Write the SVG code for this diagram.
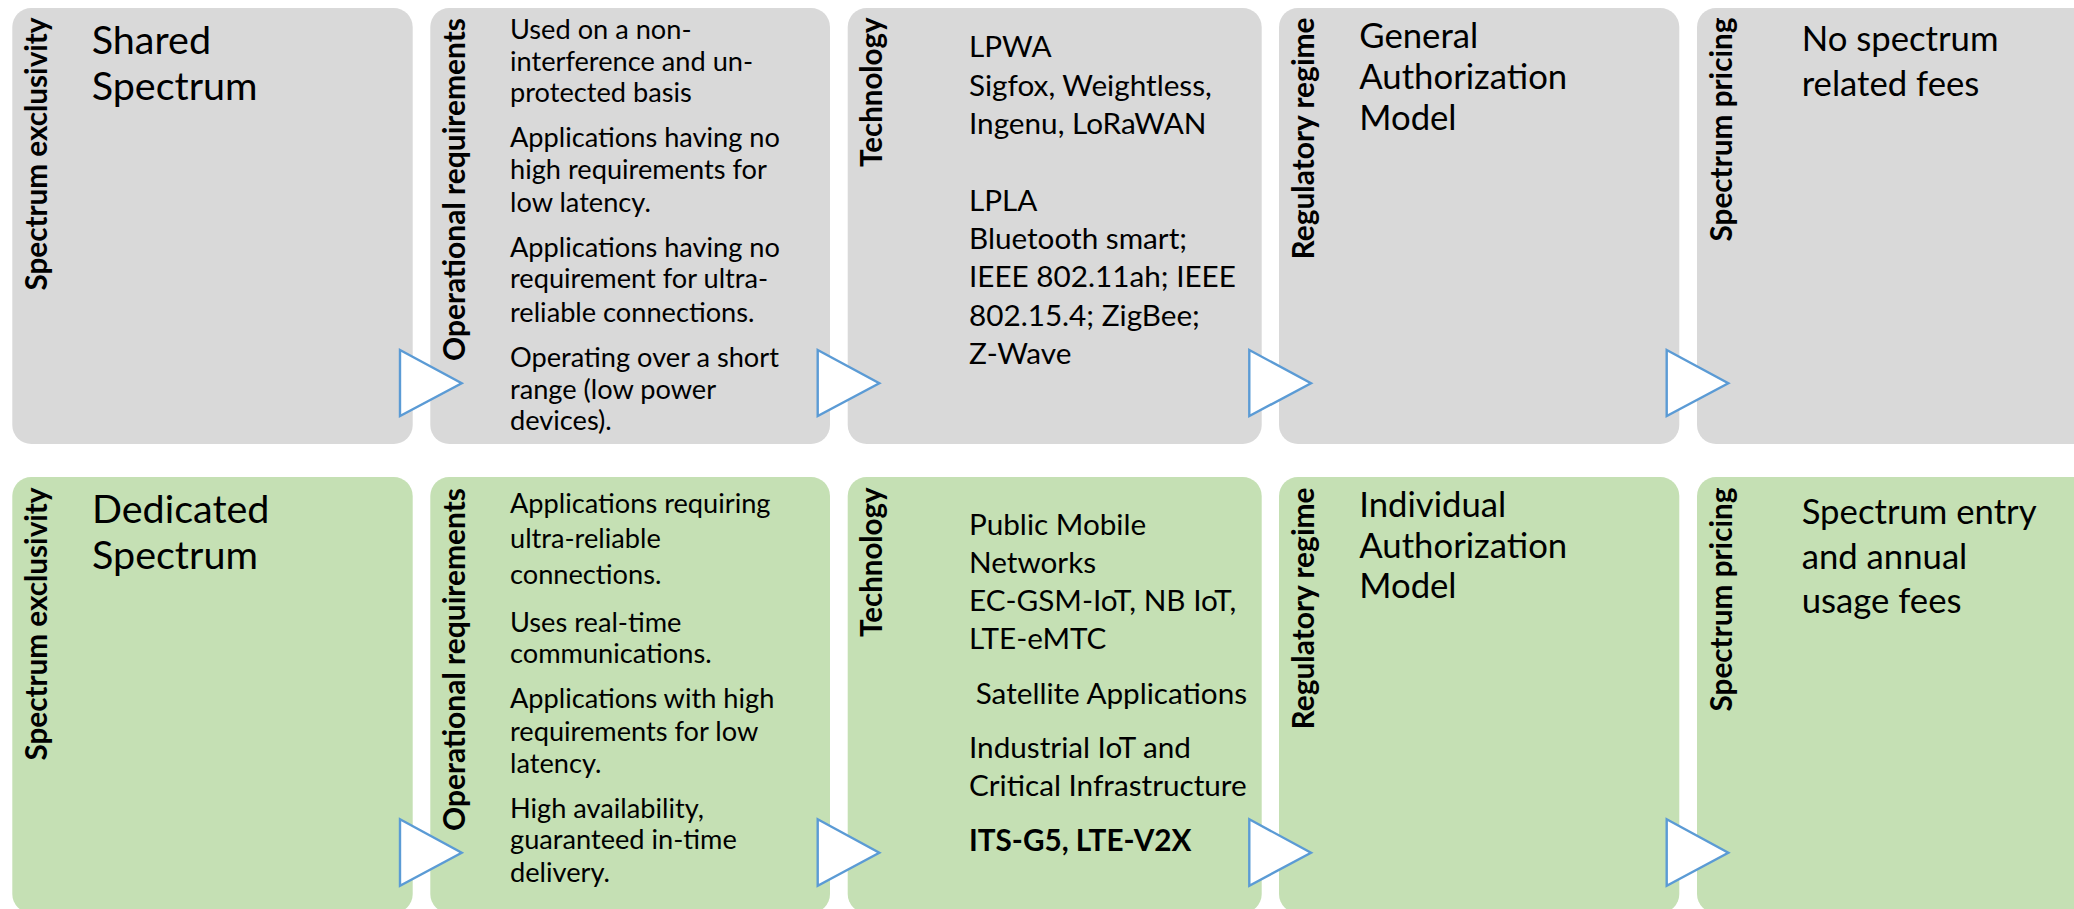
<svg xmlns="http://www.w3.org/2000/svg" width="2074" height="909" viewBox="0 0 2074 909">
  <style>
    .shared { fill: #d9d9d9; }
    .dedicated { fill: #c5e0b4; }
    .label { font-family: Lato, "Open Sans", sans-serif; font-weight: 700; font-size: 29.7px; fill: #000; }
    .t { font-family: Lato, "Open Sans", sans-serif; fill: #000; }
    .s27 { font-size: 27.2px; }
    .s30 { font-size: 29.7px; }
    .s35 { font-size: 34.7px; }
    .s40 { font-size: 39.5px; }
    .b { font-weight: 700; }
    .chevron { fill: #ffffff; stroke: #5b9bd5; stroke-width: 2.4; stroke-linejoin: miter; }
  </style>

  <rect width="2074" height="909" fill="#ffffff"/>

  <!-- Row 1: shared spectrum -->
  <g id="shared-exclusivity">
    <rect class="shared" x="12.3" y="8" width="400.4" height="436" rx="19"/>
    <text class="label" transform="translate(46.8,17.5) rotate(-90)" text-anchor="end" textLength="273" lengthAdjust="spacingAndGlyphs">Spectrum exclusivity</text>
    <text class="t s40" x="91.7" y="54">Shared</text>
    <text class="t s40" x="91.7" y="100">Spectrum</text>
  </g>

  <g id="shared-operational">
    <rect class="shared" x="430.3" y="8" width="399.7" height="436" rx="19"/>
    <text class="label" transform="translate(464.8,18) rotate(-90)" text-anchor="end" textLength="343" lengthAdjust="spacingAndGlyphs">Operational requirements</text>
    <g class="t s27">
      <text x="510" y="39.3">Used on a non-</text>
      <text x="510" y="70.7">interference and un-</text>
      <text x="510" y="102.3">protected basis</text>
      <text x="510" y="147.3">Applications having no</text>
      <text x="510" y="179.3">high requirements for</text>
      <text x="510" y="212">low latency.</text>
      <text x="510" y="256.7">Applications having no</text>
      <text x="510" y="288.3">requirement for ultra-</text>
      <text x="510" y="321.7">reliable connections.</text>
      <text x="510" y="366.7">Operating over a short</text>
      <text x="510" y="398.7">range (low power</text>
      <text x="510" y="430">devices).</text>
    </g>
  </g>

  <g id="shared-technology">
    <rect class="shared" x="847.7" y="8" width="414" height="436" rx="19"/>
    <text class="label" transform="translate(882,17.5) rotate(-90)" text-anchor="end" textLength="149.4" lengthAdjust="spacingAndGlyphs">Technology</text>
    <g class="t s30">
      <text x="969" y="57.3">LPWA</text>
      <text x="969" y="95.7">Sigfox, Weightless,</text>
      <text x="969" y="134">Ingenu, LoRaWAN</text>
      <text x="969" y="211">LPLA</text>
      <text x="969" y="249.3">Bluetooth smart;</text>
      <text x="969" y="287.3">IEEE 802.11ah; IEEE</text>
      <text x="969" y="325.7">802.15.4; ZigBee;</text>
      <text x="969" y="364">Z-Wave</text>
    </g>
  </g>

  <g id="shared-regulatory">
    <rect class="shared" x="1279" y="8" width="400.3" height="436" rx="19"/>
    <text class="label" transform="translate(1313.5,17.5) rotate(-90)" text-anchor="end" textLength="242" lengthAdjust="spacingAndGlyphs">Regulatory regime</text>
    <g class="t s35">
      <text x="1359.3" y="48.3">General</text>
      <text x="1359.3" y="89.3">Authorization</text>
      <text x="1359.3" y="130">Model</text>
    </g>
  </g>

  <g id="shared-pricing">
    <rect class="shared" x="1697" y="8" width="420" height="436" rx="19"/>
    <text class="label" transform="translate(1731.7,17.5) rotate(-90)" text-anchor="end" textLength="224" lengthAdjust="spacingAndGlyphs">Spectrum pricing</text>
    <g class="t s35">
      <text x="1801.7" y="50.7">No spectrum</text>
      <text x="1801.7" y="95.7">related fees</text>
    </g>
  </g>

  <!-- Row 2: dedicated spectrum -->
  <g id="dedicated-exclusivity">
    <rect class="dedicated" x="12.3" y="477" width="400.4" height="436" rx="19"/>
    <text class="label" transform="translate(46.8,487.5) rotate(-90)" text-anchor="end" textLength="273" lengthAdjust="spacingAndGlyphs">Spectrum exclusivity</text>
    <text class="t s40" x="92" y="522.7">Dedicated</text>
    <text class="t s40" x="92" y="569.3">Spectrum</text>
  </g>

  <g id="dedicated-operational">
    <rect class="dedicated" x="430.3" y="477" width="399.7" height="436" rx="19"/>
    <text class="label" transform="translate(464.8,488) rotate(-90)" text-anchor="end" textLength="343" lengthAdjust="spacingAndGlyphs">Operational requirements</text>
    <g class="t s27">
      <text x="510" y="512.7">Applications requiring</text>
      <text x="510" y="548.3">ultra-reliable</text>
      <text x="510" y="584">connections.</text>
      <text x="510" y="631.7">Uses real-time</text>
      <text x="510" y="663.3">communications.</text>
      <text x="510" y="708.3">Applications with high</text>
      <text x="510" y="740.7">requirements for low</text>
      <text x="510" y="773.3">latency.</text>
      <text x="510" y="818.3">High availability,</text>
      <text x="510" y="849.3">guaranteed in-time</text>
      <text x="510" y="881.7">delivery.</text>
    </g>
  </g>

  <g id="dedicated-technology">
    <rect class="dedicated" x="847.7" y="477" width="414" height="436" rx="19"/>
    <text class="label" transform="translate(882,487.5) rotate(-90)" text-anchor="end" textLength="149.4" lengthAdjust="spacingAndGlyphs">Technology</text>
    <g class="t s30">
      <text x="969" y="535">Public Mobile</text>
      <text x="969" y="572.7">Networks</text>
      <text x="969" y="611">EC-GSM-IoT, NB IoT,</text>
      <text x="969" y="649.3">LTE-eMTC</text>
      <text x="975.7" y="704">Satellite Applications</text>
      <text x="969" y="758.3">Industrial IoT and</text>
      <text x="969" y="796">Critical Infrastructure</text>
      <text class="b" x="969" y="851">ITS-G5, LTE-V2X</text>
    </g>
  </g>

  <g id="dedicated-regulatory">
    <rect class="dedicated" x="1279" y="477" width="400.3" height="436" rx="19"/>
    <text class="label" transform="translate(1313.5,487.5) rotate(-90)" text-anchor="end" textLength="242" lengthAdjust="spacingAndGlyphs">Regulatory regime</text>
    <g class="t s35">
      <text x="1359.3" y="516.7">Individual</text>
      <text x="1359.3" y="557.7">Authorization</text>
      <text x="1359.3" y="598.3">Model</text>
    </g>
  </g>

  <g id="dedicated-pricing">
    <rect class="dedicated" x="1697" y="477" width="420" height="436" rx="19"/>
    <text class="label" transform="translate(1731.7,487.5) rotate(-90)" text-anchor="end" textLength="224" lengthAdjust="spacingAndGlyphs">Spectrum pricing</text>
    <g class="t s35">
      <text x="1801.7" y="524">Spectrum entry</text>
      <text x="1801.7" y="569">and annual</text>
      <text x="1801.7" y="613.3">usage fees</text>
    </g>
  </g>

  <!-- Connectors: hollow chevrons between neighbouring boxes -->
  <g id="connectors">
    <polygon class="chevron" points="400,350 461.7,383.3 400,416"/>
    <polygon class="chevron" points="817.7,350 879.3,383.3 817.7,416"/>
    <polygon class="chevron" points="1249.3,350 1311,383.3 1249.3,416"/>
    <polygon class="chevron" points="1666.7,350 1728.3,383.3 1666.7,416"/>
    <polygon class="chevron" points="400,819.3 461.7,852.7 400,885.7"/>
    <polygon class="chevron" points="817.7,819.3 879.3,852.7 817.7,885.7"/>
    <polygon class="chevron" points="1249.3,819.3 1311,852.7 1249.3,885.7"/>
    <polygon class="chevron" points="1666.7,819.3 1728.3,852.7 1666.7,885.7"/>
  </g>
</svg>
